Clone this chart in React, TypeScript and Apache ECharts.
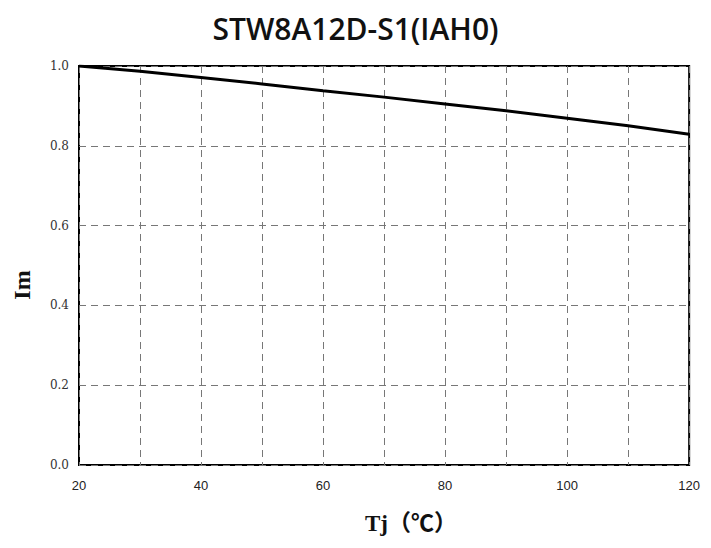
import React, { useEffect, useRef } from "react";
import * as echarts from "echarts";

const titleText = "STW8A12D-S1(IAH0)";
const xName = "Tj（℃）";
const yName = "Im";
const tj = [20, 30, 40, 50, 60, 70, 80, 90, 100, 110, 120];
const im = [1.0, 0.987, 0.971, 0.955, 0.938, 0.922, 0.905, 0.888, 0.869, 0.85, 0.829];

export default function App() {
  const ref = useRef<HTMLDivElement>(null);
  useEffect(() => {
    if (!ref.current) return;
    const chart = echarts.init(ref.current, null, { renderer: "svg" });
    chart.setOption({
      animation: false,
      backgroundColor: "#fff",
      title: {
        text: titleText,
        left: "center",
        top: 2,
        padding: 0,
        textStyle: { fontFamily: "Open Sans", fontWeight: 600, fontSize: 30, lineHeight: 36, color: "#111" },
      },
      graphic: [
        {
          type: "text",
          x: 403,
          y: 515,
          style: {
            text: xName,
            font: "bold 23px 'Liberation Serif', 'Noto Sans CJK SC'",
            fill: "#111",
            align: "center",
            verticalAlign: "middle",
          },
        },
        {
          type: "text",
          x: 14,
          y: 277,
          rotation: Math.PI / 2,
          style: {
            text: yName,
            font: "bold 24px 'Liberation Serif'",
            fill: "#111",
            align: "center",
            verticalAlign: "middle",
          },
        },
      ],
      grid: {
        left: 71,
        right: 9,
        top: 58,
        bottom: 75,
        show: true,
        borderColor: "#000",
        borderWidth: 2,
        backgroundColor: "transparent",
      },
      xAxis: {
        type: "value",
        min: 20,
        max: 120,
        interval: 10,
        axisLine: { show: false },
        axisTick: { show: false },
        axisLabel: {
          margin: 14,
          fontFamily: "Liberation Sans Narrow, Liberation Sans",
          fontSize: 13,
          color: "#222",
          formatter: (v: number) => (v % 20 === 0 ? String(v) : ""),
        },
        splitLine: { show: true, lineStyle: { color: "#777", type: [7, 5], width: 1 } },
      },
      yAxis: {
        type: "value",
        min: 0,
        max: 1,
        interval: 0.2,
        axisLine: { show: false },
        axisTick: { show: false },
        axisLabel: {
          margin: 10,
          fontFamily: "DejaVu Serif",
          fontSize: 12,
          color: "#333",
          formatter: (v: number) => v.toFixed(1),
        },
        splitLine: { show: true, lineStyle: { color: "#777", type: [7, 5], width: 1 } },
      },
      series: [
        {
          type: "line",
          data: tj.map((t, i) => [t, im[i]]),
          showSymbol: false,
          lineStyle: { color: "#000", width: 3 },
        },
      ],
    });
    return () => chart.dispose();
  }, []);
  return <div ref={ref} style={{ width: 695, height: 532 }} />;
}
